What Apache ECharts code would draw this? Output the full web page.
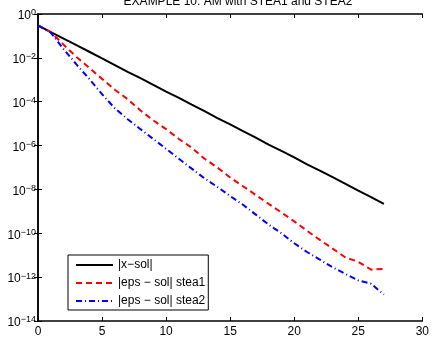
<!DOCTYPE html>
<html>
<head>
<meta charset="utf-8">
<script src="https://cdn.jsdelivr.net/npm/echarts@6/dist/echarts.min.js"></script>
<style>html,body{margin:0;padding:0;background:#fff}#c{width:432px;height:338px}</style>
</head>
<body>
<div id="c"></div>
<script>
const titleText = 'EXAMPLE 10: AM with STEA1 and STEA2';
const iterations = [0,1,2,3,4,5,6,7,8,9,10,11,12,13,14,15,16,17,18,19,20,21,22,23,24,25,26,27];
const seriesNames = ['|x\u2212sol|', '|eps \u2212 sol| stea1', '|eps \u2212 sol| stea2'];
const errX = [3.0e-1,1.5e-1,7.5e-2,3.8e-2,1.9e-2,9.4e-3,4.7e-3,2.3e-3,1.2e-3,5.9e-4,2.9e-4,1.5e-4,7.3e-5,3.7e-5,1.8e-5,9.2e-6,4.6e-6,2.3e-6,1.1e-6,5.7e-7,2.9e-7,1.4e-7,7.2e-8,3.6e-8,1.8e-8,8.9e-9,4.5e-9,2.2e-9];
const errStea1 = [3.0e-1,1.5e-1,4.0e-2,1.1e-2,3.5e-3,1.1e-3,3.5e-4,1.3e-4,4.0e-5,1.4e-5,5.6e-6,2.0e-6,8.0e-7,2.5e-7,1.0e-7,3.5e-8,1.4e-8,5.6e-9,2.2e-9,8.9e-10,3.5e-10,1.3e-10,5.0e-11,2.0e-11,7.9e-12,5.0e-12,2.2e-12,2.4e-12];
const errStea2 = [3.0e-1,1.4e-1,2.5e-2,5.0e-3,1.1e-3,2.2e-4,5.0e-5,1.6e-5,5.6e-6,2.0e-6,7.1e-7,2.5e-7,8.9e-8,3.2e-8,1.3e-8,5.0e-9,2.0e-9,7.1e-10,2.5e-10,1.0e-10,3.5e-11,1.4e-11,6.3e-12,2.8e-12,1.4e-12,7.1e-13,5.0e-13,1.6e-13];
const xTicks = [0,5,10,15,20,25,30];
const yExponents = [0,-2,-4,-6,-8,-10,-12,-14];

const FONT = 'Liberation Sans, Arial, Helvetica, sans-serif';
function pairs(vals){ return iterations.map((k,i)=>[k, vals[i]]); }

const chart = echarts.init(document.getElementById('c'), null, {renderer:'canvas'});
chart.setOption({
  animation:false,
  backgroundColor:'#fff',
  title:{text:titleText, left:233, textAlign:'center', top:-9,
    textStyle:{fontFamily:FONT, fontSize:12, fontWeight:'normal', color:'#000'}},
  grid:{left:38, right:4, top:14, bottom:16, containLabel:false},
  legend:{
    orient:'vertical', left:68, top:255,
    padding:[4,3,3,7], itemGap:6, itemWidth:37, itemHeight:12,
    backgroundColor:'#fff', borderColor:'#000', borderWidth:1, borderRadius:0,
    itemStyle:{opacity:0},
    textStyle:{fontFamily:FONT, fontSize:12, color:'#000'},
    data:seriesNames
  },
  xAxis:[{
    type:'value', min:0, max:30, interval:5,
    axisLine:{onZero:false, lineStyle:{color:'#000', width:1.5}},
    axisTick:{inside:true, length:4, lineStyle:{color:'#000'}},
    axisLabel:{fontFamily:FONT, fontSize:12, color:'#000', margin:5},
    splitLine:{show:false}
  },{
    type:'value', position:'top', min:0, max:30, interval:5,
    axisLine:{lineStyle:{color:'#000', width:1.5}},
    axisTick:{inside:true, length:4, lineStyle:{color:'#000'}},
    axisLabel:{show:false}, splitLine:{show:false}
  }],
  yAxis:[{
    type:'log', logBase:10, min:1e-14, max:1, interval:2,
    axisLine:{onZero:false, lineStyle:{color:'#000', width:1.5}},
    axisTick:{inside:true, length:4, lineStyle:{color:'#000'}},
    minorTick:{show:false},
    axisLabel:{margin:2, padding:[4,0,0,0], formatter:function(v){
        const e = Math.round(Math.log10(v));
        if (yExponents.indexOf(e) < 0) return '';
        return '{b|10}{s|' + (e<0 ? '\u2212'+(-e) : e) + '}';
      },
      rich:{
        b:{fontFamily:FONT, fontSize:12, color:'#000'},
        s:{fontFamily:FONT, fontSize:9, color:'#000', padding:[0,0,6,0]}
      }},
    splitLine:{show:false}
  },{
    type:'log', logBase:10, min:1e-14, max:1, interval:2, position:'right',
    axisLine:{lineStyle:{color:'#000', width:1.5}},
    axisTick:{inside:true, length:4, lineStyle:{color:'#000'}},
    axisLabel:{show:false}, splitLine:{show:false}
  }],
  series:[
    {name:seriesNames[0], type:'line', data:pairs(errX), symbol:'none',
     lineStyle:{color:'#000', width:2, type:'solid'}, itemStyle:{color:'#000'}},
    {name:seriesNames[1], type:'line', data:pairs(errStea1), symbol:'none',
     lineStyle:{color:'#ff0000', width:2, type:[6,4]}, itemStyle:{color:'#ff0000'}},
    {name:seriesNames[2], type:'line', data:pairs(errStea2), symbol:'none',
     lineStyle:{color:'#0000ff', width:2, type:[6,3,1,3]}, itemStyle:{color:'#0000ff'}}
  ]
});
</script>
</body>
</html>
